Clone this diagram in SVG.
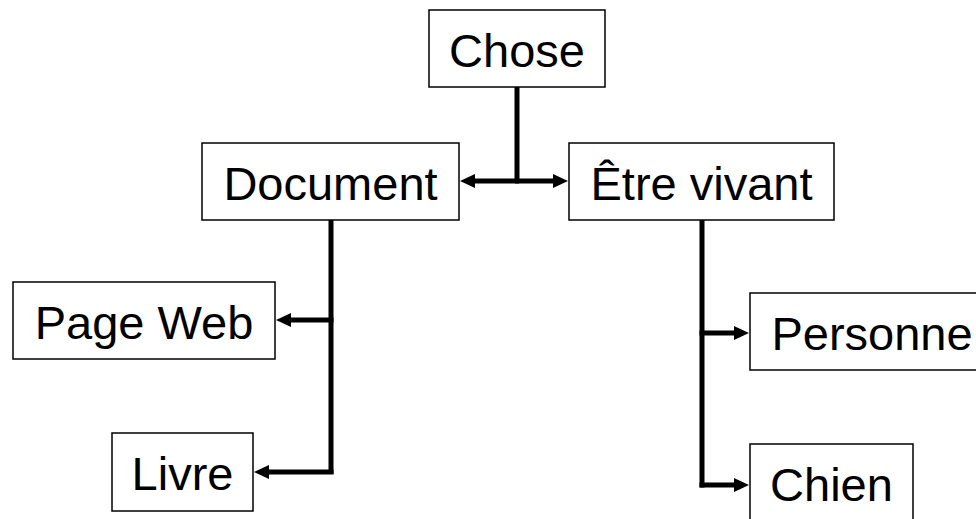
<svg xmlns="http://www.w3.org/2000/svg" width="976" height="519" viewBox="0 0 976 519">
<style>
.box{fill:#fff;stroke:#000;stroke-width:1.5}
.lbl{font-family:"Liberation Sans",Arial,sans-serif;font-size:47px;fill:#000;text-anchor:middle}
.con{fill:none;stroke:#000;stroke-width:5}
.arr{marker-end:url(#ah)}
</style>
<defs>
<marker id="ah" markerUnits="userSpaceOnUse" markerWidth="16" markerHeight="15" refX="0" refY="7" orient="auto" overflow="visible">
<path d="M0,0 L15,7 L0,14 z" fill="#000"/>
</marker>
</defs>
<rect width="976" height="519" fill="#fff"/>
<g id="connectors">
<path class="con" d="M517,87 V183"/>
<path class="con arr" d="M519,181 H475"/>
<path class="con arr" d="M515,181 H553"/>
<path class="con" d="M331,220 V474"/>
<path class="con arr" d="M333.5,320 H291"/>
<path class="con arr" d="M333.5,472 H269"/>
<path class="con" d="M702,220 V487.5"/>
<path class="con arr" d="M699.5,333 H734"/>
<path class="con arr" d="M699.5,485 H734"/>
</g>
<g id="chose"><rect class="box" x="429" y="10" width="176" height="77"/><text class="lbl" x="517" y="67">Chose</text></g>
<g id="document"><rect class="box" x="202" y="143" width="257" height="77"/><text class="lbl" x="330.5" y="200">Document</text></g>
<g id="etre-vivant"><rect class="box" x="569" y="143" width="265" height="77"/><text class="lbl" x="701.5" y="200">Être vivant</text></g>
<g id="page-web"><rect class="box" x="13" y="282" width="262" height="77"/><text class="lbl" x="144" y="339">Page Web</text></g>
<g id="livre"><rect class="box" x="112" y="433" width="141" height="78"/><text class="lbl" x="182.5" y="490">Livre</text></g>
<g id="personne"><rect class="box" x="750" y="293" width="244" height="77"/><text class="lbl" x="872" y="350">Personne</text></g>
<g id="chien"><rect class="box" x="750" y="444" width="163" height="90"/><text class="lbl" x="831.5" y="501">Chien</text></g>
</svg>
